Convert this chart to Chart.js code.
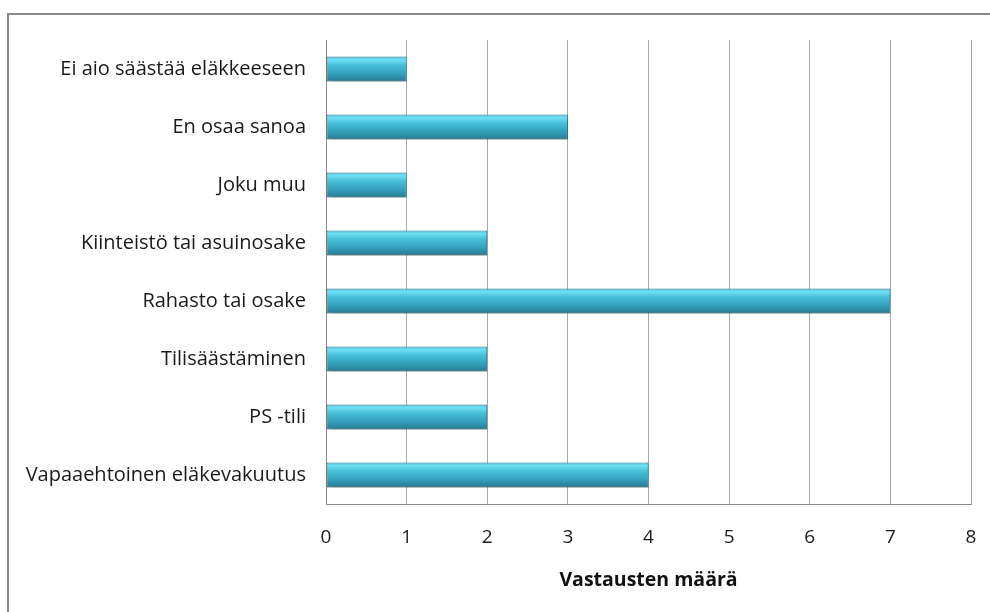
<!DOCTYPE html>
<html>
<head>
<meta charset="utf-8">
<script src="https://cdn.jsdelivr.net/npm/chart.js@4/dist/chart.umd.min.js"></script>
<style>
  html, body { margin: 0; padding: 0; background: #fff; overflow: hidden; }
  #frame { position: absolute; left: 7px; top: 13px; width: 1000px; height: 640px; border: 2px solid #888; box-sizing: border-box; }
  #myChart { position: absolute; left: 0; top: 0; }
</style>
</head>
<body>
<div id="frame"></div>
<canvas id="myChart" width="990" height="612"></canvas>
<script>
// Data (top to bottom)
const categories = [
    'Ei aio säästää eläkkeeseen',
    'En osaa sanoa',
    'Joku muu',
    'Kiinteistö tai asuinosake',
    'Rahasto tai osake',
    'Tilisäästäminen',
    'PS -tili',
    'Vapaaehtoinen eläkevakuutus'
];
const answers = [1, 3, 1, 2, 7, 2, 2, 4];
const xTicks = [0, 1, 2, 3, 4, 5, 6, 7, 8];
const axisTitle = 'Vastausten määrä';

const barPct = 0.43;
const fontFamily = "'Open Sans', 'Noto Sans', sans-serif";

// Glossy cyan gradient for each bar
function barGradient(ctx) {
    const chart = ctx.chart;
    const yScale = chart.scales.y;
    if (!yScale || !chart.chartArea) return '#45c0da';
    const yc = yScale.getPixelForValue(ctx.dataIndex);
    const half = (yScale.height / categories.length) * barPct / 2;
    const g = chart.ctx.createLinearGradient(0, yc - half, 0, yc + half);
    g.addColorStop(0, '#48bdd6');
    g.addColorStop(0.12, '#6fe0f3');
    g.addColorStop(0.35, '#47c0da');
    g.addColorStop(0.75, '#3199b4');
    g.addColorStop(1, '#25778e');
    return g;
}

// Soft drop shadow under the bars
const shadowPlugin = {
    id: 'barShadow',
    beforeDatasetsDraw(chart) {
        const c = chart.ctx;
        c.save();
        c.shadowColor = 'rgba(0,0,0,0.3)';
        c.shadowBlur = 5;
        c.shadowOffsetY = 4;
        c.shadowOffsetX = 1;
    },
    afterDatasetsDraw(chart) {
        chart.ctx.restore();
    }
};

function createChart() {
    const ctx = document.getElementById('myChart').getContext('2d');
    new Chart(ctx, {
        type: 'bar',
        data: {
            labels: categories,
            datasets: [{
                data: answers,
                backgroundColor: barGradient,
                borderColor: '#2a7184',
                borderWidth: 1,
                borderSkipped: false,
                barPercentage: barPct,
                categoryPercentage: 1
            }]
        },
        plugins: [shadowPlugin],
        options: {
            indexAxis: 'y',
            responsive: false,
            devicePixelRatio: 1,
            animation: false,
            layout: { padding: { top: 40, right: 19, left: 0, bottom: 0 } },
            plugins: {
                legend: { display: false },
                tooltip: { enabled: false }
            },
            scales: {
                x: {
                    min: 0,
                    max: 8,
                    afterBuildTicks(scale) {
                        scale.ticks = xTicks.map(v => ({ value: v }));
                    },
                    afterFit(scale) {
                        scale.height = 108;
                        scale.paddingLeft = 0;
                        scale.paddingRight = 0;
                    },
                    grid: { color: '#a8a8a8', lineWidth: 1, drawTicks: false },
                    border: { color: '#8c8c8c', width: 1 },
                    ticks: {
                        color: '#1a1a1a',
                        padding: 22,
                        font: { family: fontFamily, size: 19 }
                    },
                    title: {
                        display: true,
                        text: axisTitle,
                        color: '#111',
                        padding: { top: 0, bottom: 20 },
                        font: { family: fontFamily, size: 19.5, weight: 'bold' }
                    }
                },
                y: {
                    afterFit(scale) { scale.width = 326; },
                    grid: { display: false, drawTicks: false },
                    border: { color: '#8c8c8c', width: 1 },
                    ticks: {
                        color: '#1a1a1a',
                        padding: 20,
                        font: { family: fontFamily, size: 20 }
                    }
                }
            }
        }
    });
}

createChart();
</script>
</body>
</html>
